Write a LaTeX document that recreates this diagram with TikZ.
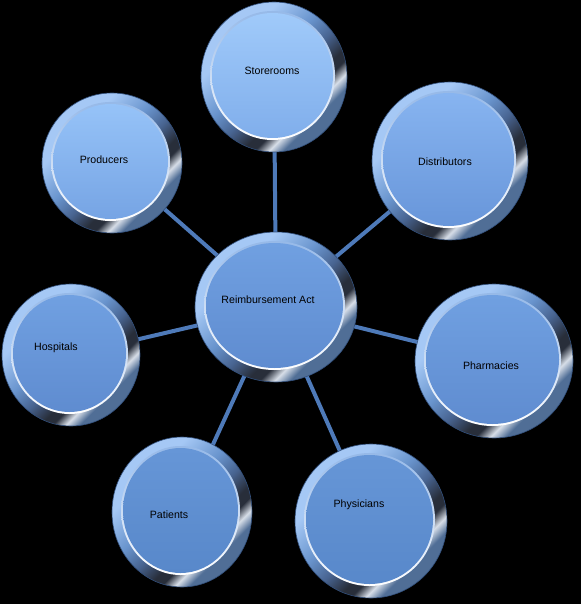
\documentclass[tikz,border=0pt]{standalone}
\usepackage{fontspec}
\setmainfont{Liberation Sans}
\usetikzlibrary{shapes.geometric}
\pgfdeclarelayer{bg}
\pgfdeclarelayer{edges}
\pgfsetlayers{bg,edges,main}
\definecolor{rimL}{RGB}{165,200,245}
\definecolor{rimM}{RGB}{105,148,205}
\definecolor{rimMM}{RGB}{72,100,145}
\definecolor{rimD}{RGB}{40,46,58}
\definecolor{rimW}{RGB}{215,222,232}
\definecolor{rimDD}{RGB}{80,110,150}
\definecolor{rimEdge}{RGB}{50,80,125}
\definecolor{ringTop}{RGB}{150,185,232}
\definecolor{conn}{RGB}{78,122,185}
\definecolor{f1t}{RGB}{160,202,250}\definecolor{f1b}{RGB}{128,174,235}
\definecolor{f2t}{RGB}{150,195,248}\definecolor{f2b}{RGB}{118,164,228}
\definecolor{f3t}{RGB}{135,180,240}\definecolor{f3b}{RGB}{104,150,218}
\definecolor{f4t}{RGB}{112,160,225}\definecolor{f4b}{RGB}{95,140,208}
\definecolor{f5t}{RGB}{102,150,215}\definecolor{f5b}{RGB}{88,136,202}
\pgfdeclarehorizontalshading{rimshade}{100bp}{color(0bp)=(rimL); color(33bp)=(rimL); color(45bp)=(rimM); color(53bp)=(rimMM); color(60bp)=(rimD); color(63bp)=(rimD); color(66.5bp)=(rimW); color(70bp)=(rimDD); color(100bp)=(rimDD)}
\tikzset{
  rimnode/.style={ellipse, inner sep=0pt, shading=rimshade, shading angle=-45, draw=rimEdge, line width=0.6pt},
  ringnode/.style={ellipse, inner sep=0pt, top color=ringTop, bottom color=white, draw=none},
  facenode/.style={ellipse, inner sep=0pt, draw=none},
  lab/.style={font=\fontsize{10.6}{12}\selectfont, text=black, inner sep=0pt},
  link/.style={draw=conn, line width=4pt}
}
% #1 name, #2 x, #3 y, #4 rx, #5 ry, #6 face colour prefix, #7 label, #8 lx, #9 ly
\newcommand\bubble[9]{%
  \node[rimnode, minimum width={2*#4}, minimum height={2*#5}] (#1) at (#2,-#3) {};
  \node[ringnode, minimum width={2*(#4-10.5)}, minimum height={2*(#5-10.5)}] (#1-ring) at ({#2-1.5},{-#3+1.5}) {};
  \node[facenode, top color=#6t, bottom color=#6b, minimum width={2*(#4-12.5)}, minimum height={2*(#5-12.5)}] (#1-face) at ({#2-1.5},{-#3+1.5}) {};
  \node[lab] (#1-text) at (#8,-#9) {#7};
}
\begin{document}
\begin{tikzpicture}[x=1pt,y=1pt]
\begin{pgfonlayer}{bg}
\fill[black] (0,0) rectangle (581,-604);
\end{pgfonlayer}
\useasboundingbox (0,0) rectangle (581,-604);
\bubble{hub}{276}{307}{81}{75}{f4}{Reimbursement Act}{268}{300}
\bubble{store}{274}{77}{73}{75}{f1}{Storerooms}{272}{71}
\bubble{prod}{112}{163}{70}{70}{f2}{Producers}{104}{160}
\bubble{dist}{450}{161}{78}{79}{f3}{Distributors}{445}{162}
\bubble{hosp}{71}{355}{69}{71}{f4}{Hospitals}{56}{348}
\bubble{pharm}{494}{361}{79}{77}{f4}{Pharmacies}{491}{366}
\bubble{pat}{182}{512}{70}{75}{f5}{Patients}{169}{515}
\bubble{phys}{371}{521}{76}{77}{f5}{Physicians}{359}{505}
\begin{pgfonlayer}{edges}
\foreach \n in {store,prod,dist,hosp,pharm,pat,phys}{
  \draw[link] (hub.center) -- (\n.center);
}
\end{pgfonlayer}
\end{tikzpicture}
\end{document}
